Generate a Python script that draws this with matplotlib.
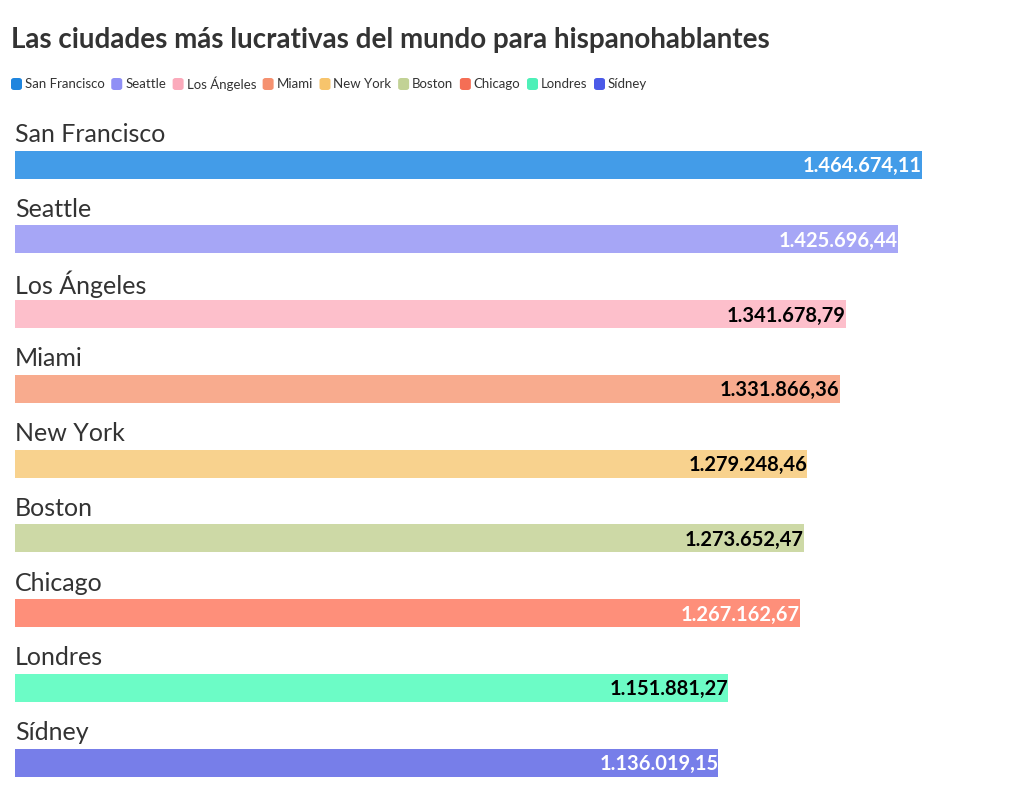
import matplotlib
matplotlib.use("Agg")
import matplotlib.pyplot as plt
from matplotlib.patches import FancyBboxPatch

plt.rcParams['font.family'] = ['Lato', 'DejaVu Sans']

cities = ["San Francisco", "Seattle", "Los Ángeles", "Miami", "New York",
          "Boston", "Chicago", "Londres", "Sídney"]
values = [1464674.11, 1425696.44, 1341678.79, 1331866.36, 1279248.46,
          1273652.47, 1267162.67, 1151881.27, 1136019.15]
legend_colors = ["#1f85de", "#8f8ff5", "#fbaabb", "#f59170", "#f7c46c",
                 "#c2d295", "#f56e55", "#4ef0b8", "#4b5ae8"]
bar_colors = ["#439ce8", "#a6a6f6", "#fdbfcb", "#f8ab8e", "#f8d28e",
              "#cdd9a6", "#fe8f7a", "#6cfcc6", "#777ee9"]
label_colors = ["white", "white", "black", "black", "black",
                "black", "white", "black", "white"]

W, H = 1020, 798
fig = plt.figure(figsize=(W / 100, H / 100), dpi=100)


def fx(px):
    return px / W


def fy(py):
    return 1 - py / H


# axes: x from 15px to 922px maps 0..max value, rows 74.75px apart
y0, y1 = -0.8, 8.4
row = 74.75
c0 = 164.5
top_px = c0 + y0 * row
bot_px = c0 + y1 * row
ax = fig.add_axes([fx(15), fy(bot_px), fx(922 - 15), (bot_px - top_px) / H])
ax.set_xlim(0, max(values))
ax.set_ylim(y1, y0)
ax.axis('off')

pos = list(range(len(cities)))
ax.barh(pos, values, height=28 / row, color=bar_colors, linewidth=0)


def fmt(v):
    s = f"{v:,.2f}"
    return s.replace(",", "X").replace(".", ",").replace("X", ".")


for i, (c, v) in enumerate(zip(cities, values)):
    ax.text(0, i - 0.40, c, fontsize=18, color="#333333", ha='left', va='center')
    ax.text(v, i + 0.02, fmt(v), fontsize=14.5, fontweight='bold',
            color=label_colors[i], ha='right', va='center')

fig.text(fx(11), fy(40), "Las ciudades más lucrativas del mundo para hispanohablantes",
         fontsize=20, fontweight='bold', color="#333333", ha='left', va='center')

# legend
renderer = fig.canvas.get_renderer()
x = 11
ly = 84
for c, col in zip(cities, legend_colors):
    box = FancyBboxPatch((fx(x), fy(ly + 6)), fx(11), 12 / H,
                         boxstyle="round,pad=0,rounding_size=0.003",
                         transform=fig.transFigure, facecolor=col, edgecolor='none')
    fig.patches.append(box)
    t = fig.text(fx(x + 14), fy(ly), c, fontsize=9.5, color="#333333",
                 ha='left', va='center')
    bb = t.get_window_extent(renderer)
    x = x + 14 + bb.width + 6.5

fig.savefig("out.png", dpi=100, facecolor='white')
